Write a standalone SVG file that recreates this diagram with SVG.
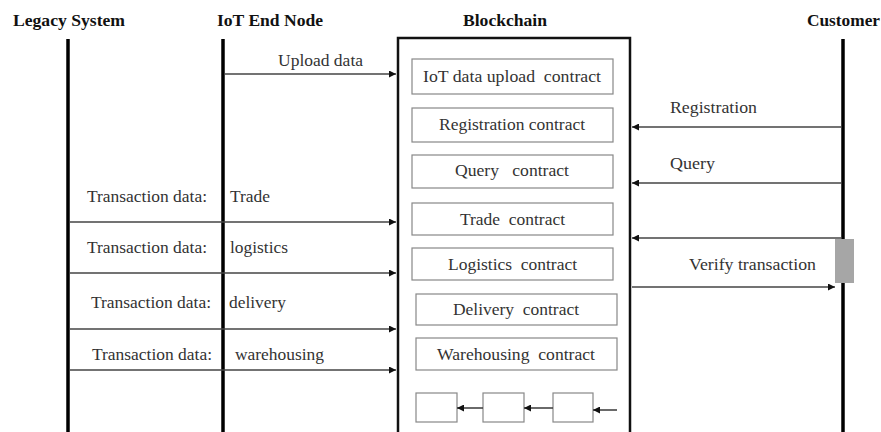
<svg xmlns="http://www.w3.org/2000/svg" width="881" height="432" viewBox="0 0 881 432">
<style>
text{font-family:"Liberation Serif","Times New Roman",serif;fill:#333}
.h{font-weight:bold;font-size:16px;fill:#111}
.l{font-size:16px}
.c{font-size:16px}
.life{stroke:#000;stroke-width:3.5}
.box{fill:#fff;stroke:#888;stroke-width:1.2}
.msg{stroke:#444;stroke-width:1.6;fill:none;marker-end:url(#ah)}
</style>
<defs>
<marker id="ah" viewBox="0 0 10 10" refX="10" refY="5" markerWidth="7" markerHeight="7" markerUnits="userSpaceOnUse" orient="auto">
<path d="M0,0 L10,5 L0,10 z" fill="#111"/>
</marker>
</defs>
<rect width="881" height="432" fill="#fff"/>
<g id="legacy">
<text class="h" x="13" y="26" textLength="112" lengthAdjust="spacingAndGlyphs">Legacy System</text>
<line class="life" x1="68" y1="39" x2="68" y2="432"/>
</g>
<g id="iot">
<text class="h" x="217" y="26" textLength="106" lengthAdjust="spacingAndGlyphs">IoT End Node</text>
<line class="life" x1="223" y1="39" x2="223" y2="432"/>
</g>
<g id="customer">
<text class="h" x="807" y="26" textLength="73" lengthAdjust="spacingAndGlyphs">Customer</text>
<line class="life" x1="843" y1="39" x2="843" y2="432"/>
<rect x="835" y="239" width="19" height="44" fill="#a6a6a6"/>
</g>
<g id="blockchain">
<text class="h" x="463" y="26" textLength="84" lengthAdjust="spacingAndGlyphs">Blockchain</text>
<path d="M398,440 V38 H630 V440" fill="none" stroke="#111" stroke-width="2.5"/>
</g>
<g id="c-iot"><rect class="box" x="412" y="59" width="201" height="35"/><text class="c" x="423" y="82" textLength="178" lengthAdjust="spacingAndGlyphs" xml:space="preserve">IoT data upload  contract</text></g>
<g id="c-reg"><rect class="box" x="412" y="108" width="201" height="34"/><text class="c" x="439" y="130" textLength="146" lengthAdjust="spacingAndGlyphs">Registration contract</text></g>
<g id="c-query"><rect class="box" x="412" y="155" width="201" height="33"/><text class="c" x="455" y="176" textLength="114" lengthAdjust="spacingAndGlyphs" xml:space="preserve">Query   contract</text></g>
<g id="c-trade"><rect class="box" x="412" y="203" width="201" height="32"/><text class="c" x="460" y="225" textLength="105" lengthAdjust="spacingAndGlyphs" xml:space="preserve">Trade  contract</text></g>
<g id="c-log"><rect class="box" x="412" y="248" width="201" height="32"/><text class="c" x="448" y="270" textLength="129" lengthAdjust="spacingAndGlyphs" xml:space="preserve">Logistics  contract</text></g>
<g id="c-del"><rect class="box" x="416" y="294" width="201" height="31"/><text class="c" x="453" y="315" textLength="126" lengthAdjust="spacingAndGlyphs" xml:space="preserve">Delivery  contract</text></g>
<g id="c-ware"><rect class="box" x="416" y="338" width="201" height="32"/><text class="c" x="437" y="360" textLength="158" lengthAdjust="spacingAndGlyphs" xml:space="preserve">Warehousing  contract</text></g>
<g id="blk1"><rect class="box" x="416" y="393" width="41" height="29"/></g>
<g id="blk2"><rect class="box" x="483" y="393" width="41" height="29"/></g>
<g id="blk3"><rect class="box" x="553" y="393" width="40" height="29"/></g>
<g id="connectors">
<line class="msg" x1="225" y1="74" x2="396" y2="74"/>
<line class="msg" x1="841" y1="127" x2="632" y2="127"/>
<line class="msg" x1="841" y1="183" x2="632" y2="183"/>
<line class="msg" x1="841" y1="238" x2="632" y2="238"/>
<line class="msg" x1="632" y1="287" x2="835" y2="287"/>
<line class="msg" x1="70" y1="222" x2="396" y2="222"/>
<line class="msg" x1="70" y1="273" x2="396" y2="273"/>
<line class="msg" x1="70" y1="329" x2="396" y2="329"/>
<line class="msg" x1="70" y1="370" x2="396" y2="370"/>
<line class="msg" x1="483" y1="408" x2="457" y2="408"/>
<line class="msg" x1="553" y1="408" x2="524" y2="408"/>
<line class="msg" x1="617" y1="410" x2="593" y2="410"/>
</g>
<g id="labels">
<text class="l" x="278" y="66" textLength="85" lengthAdjust="spacingAndGlyphs">Upload data</text>
<text class="l" x="670" y="113" textLength="87" lengthAdjust="spacingAndGlyphs">Registration</text>
<text class="l" x="670" y="169" textLength="45" lengthAdjust="spacingAndGlyphs">Query</text>
<text class="l" x="689" y="270" textLength="127" lengthAdjust="spacingAndGlyphs">Verify transaction</text>
<text class="l" x="87" y="202" textLength="120" lengthAdjust="spacingAndGlyphs">Transaction data:</text>
<text class="l" x="230" y="202" textLength="40" lengthAdjust="spacingAndGlyphs">Trade</text>
<text class="l" x="87" y="253" textLength="120" lengthAdjust="spacingAndGlyphs">Transaction data:</text>
<text class="l" x="230" y="253" textLength="58" lengthAdjust="spacingAndGlyphs">logistics</text>
<text class="l" x="91" y="308" textLength="120" lengthAdjust="spacingAndGlyphs">Transaction data:</text>
<text class="l" x="229" y="308" textLength="57" lengthAdjust="spacingAndGlyphs">delivery</text>
<text class="l" x="92" y="360" textLength="120" lengthAdjust="spacingAndGlyphs">Transaction data:</text>
<text class="l" x="235" y="360" textLength="89" lengthAdjust="spacingAndGlyphs">warehousing</text>
</g>
</svg>
